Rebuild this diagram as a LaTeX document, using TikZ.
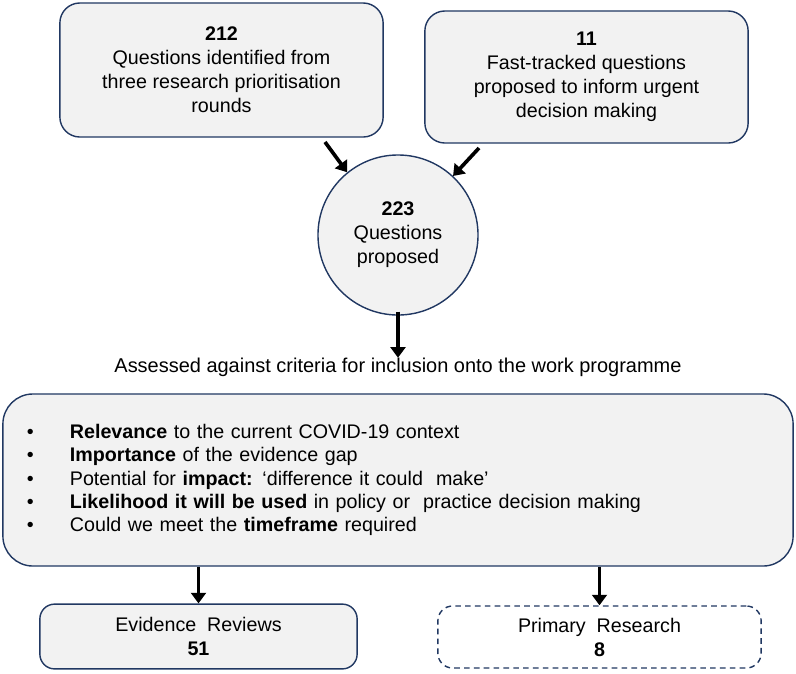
\documentclass[tikz,border=0pt]{standalone}
\usepackage{fontspec}
\setmainfont{Liberation Sans}
\usetikzlibrary{positioning, arrows.meta}
\definecolor{boxnavy}{RGB}{33,56,98}
\definecolor{boxgrey}{RGB}{242,242,242}

\begin{document}
\begin{tikzpicture}[x=0.025cm, y=-0.025cm,
  box/.style={draw=boxnavy, line width=1pt, rounded corners=0.5cm, fill=boxgrey, align=center, inner sep=0pt, font=\fontsize{14}{17}\selectfont},
  arr/.style={-{Triangle[length=7.5pt, width=10.5pt]}, line width=2.6pt, black}]
  \useasboundingbox (0,0) rectangle (796,673);
  \node[box, minimum width=8.08cm, minimum height=3.35cm] (found) at (221.5,70) {\textbf{212}\\Questions identified from\\three research prioritisation\\rounds};
  \node[box, minimum width=8.08cm, minimum height=3.3cm] (fast) at (586.5,77) {\textbf{11}\\Fast-tracked questions\\proposed to inform urgent\\decision making};
  \node[box, circle, minimum size=4cm] (prop) at (398,235) {\textbf{223}\\Questions\\proposed};
  \node[font=\fontsize{14.2}{17}\selectfont, inner sep=0pt, below=1.05cm of prop] (assess) {Assessed against criteria for inclusion onto the work programme};
  \node[box, rounded corners=0.75cm, minimum width=19.75cm, minimum height=4.3cm, text width=18.55cm, inner xsep=0.6cm, align=left, font=\fontsize{14}{16.6}\selectfont] (crit) at (398,480) {%
    \makebox[1.075cm][l]{\textbullet}\textbf{Relevance} to the current COVID-19 context\\
    \makebox[1.075cm][l]{\textbullet}\textbf{Importance} of the evidence gap\\
    \makebox[1.075cm][l]{\textbullet}Potential for \textbf{impact:} ‘difference it could~ make’\\
    \makebox[1.075cm][l]{\textbullet}\textbf{Likelihood it will be used} in policy or~ practice decision making\\
    \makebox[1.075cm][l]{\textbullet}Could we meet the \textbf{timeframe} required};
  \node[box, rounded corners=0.37cm, minimum width=7.93cm, minimum height=1.62cm] (rev) at (198.5,636.5) {Evidence~ Reviews\\\textbf{51}};
  \node[box, rounded corners=0.37cm, fill=white, dash pattern=on 4pt off 3pt, minimum width=8.08cm, minimum height=1.55cm] (prim) at (599.5,637) {Primary~ Research\\\textbf{8}};
  \coordinate (foundout) at (325,142);
  \coordinate (fastout) at (479,148);
  \draw[arr] (foundout) -- (prop.129);
  \draw[arr] (fastout) -- (prop.47);
  \draw[arr] ([yshift=3pt]prop.south) -- (assess.north);
  \draw[arr] (crit.south -| rev.north) -- (rev.north);
  \draw[arr] (crit.south -| prim.north) -- (prim.north);
\end{tikzpicture}
\end{document}
